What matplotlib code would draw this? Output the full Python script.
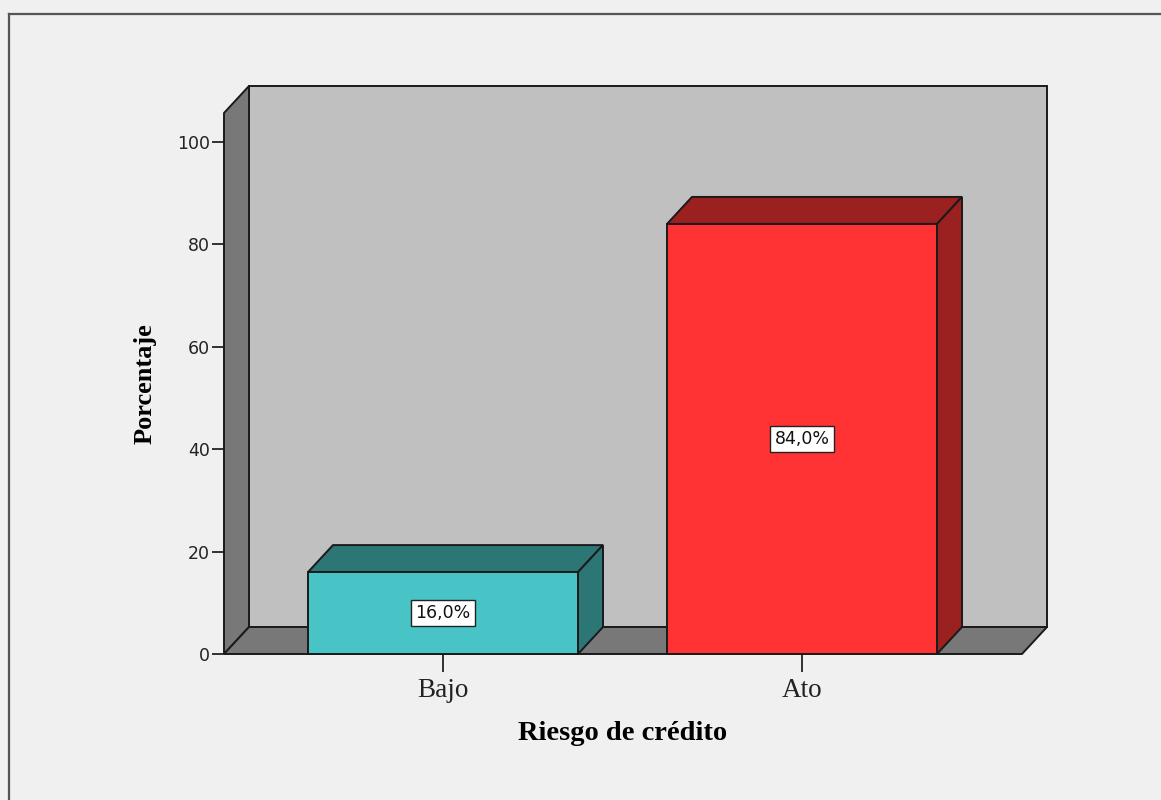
import matplotlib
matplotlib.use("Agg")
import matplotlib.pyplot as plt
from matplotlib.patches import Polygon

# Data
categories = ["Bajo", "Ato"]
percentages = [16.0, 84.0]
bar_labels = ["16,0%", "84,0%"]
y_ticks = [0, 20, 40, 60, 80, 100]

# Colours
front_colors = ["#48c3c6", "#ff3333"]
shade_colors = ["#2c7676", "#9b2020"]
page_bg = "#f0f0f0"
wall_back = "#c0c0c0"
wall_side = "#787878"
edge = "#1a1a1a"

W, H, DPI = 11.61, 8.0, 100
fig = plt.figure(figsize=(W, H), dpi=DPI, facecolor=page_bg)

# Outer frame
fig.add_artist(plt.Line2D([9 / 1161, 9 / 1161], [0, 1 - 14 / 800],
                          transform=fig.transFigure, color="#555555", lw=1.6))
fig.add_artist(plt.Line2D([9 / 1161, 1], [1 - 14 / 800, 1 - 14 / 800],
                          transform=fig.transFigure, color="#555555", lw=1.6))

# Front plane of the chart (pixel geometry)
x_left_px, x_right_px = 224, 1022
y_base_px, y_top_px = 654, 113
ax = fig.add_axes([x_left_px / 1161, 1 - y_base_px / 800,
                   (x_right_px - x_left_px) / 1161, (y_base_px - y_top_px) / 800])
ax.set_facecolor("none")

px_per_cat = 359.0
px_per_pct = 5.12
x0 = -(443 - x_left_px) / px_per_cat
x1 = (x_right_px - 443) / px_per_cat
ymax = (y_base_px - y_top_px) / px_per_pct
ax.set_xlim(x0, x1)
ax.set_ylim(0, ymax)

# Depth offset in data units
dx = 25 / px_per_cat
dy = 27 / px_per_pct
bar_w = 270 / px_per_cat

lw = 1.4
kw = dict(closed=True, ec=edge, lw=lw, clip_on=False, joinstyle="miter")

# Back wall
ax.add_patch(Polygon([(x0 + dx, dy), (x1 + dx, dy), (x1 + dx, ymax + dy),
                      (x0 + dx, ymax + dy)], fc=wall_back, zorder=1, **kw))
# Left wall
ax.add_patch(Polygon([(x0, 0), (x0 + dx, dy), (x0 + dx, ymax + dy), (x0, ymax)],
                     fc=wall_side, zorder=2, **kw))
# Floor
ax.add_patch(Polygon([(x0, 0), (x1, 0), (x1 + dx, dy), (x0 + dx, dy)],
                     fc=wall_side, zorder=2, **kw))

# 3D bars
for i, (val, lab) in enumerate(zip(percentages, bar_labels)):
    l, r = i - bar_w / 2, i + bar_w / 2
    ax.add_patch(Polygon([(l, val), (r, val), (r + dx, val + dy), (l + dx, val + dy)],
                         fc=shade_colors[i], zorder=3, **kw))
    ax.add_patch(Polygon([(r, 0), (r + dx, dy), (r + dx, val + dy), (r, val)],
                         fc=shade_colors[i], zorder=3, **kw))
    ax.add_patch(Polygon([(l, 0), (r, 0), (r, val), (l, val)],
                         fc=front_colors[i], zorder=4, **kw))
    ax.text(i, val / 2, lab, ha="center", va="center", fontsize=12.5,
            family="DejaVu Sans", color="#111111", zorder=6,
            bbox=dict(boxstyle="square,pad=0.25", fc="white", ec="#222222", lw=1.0))

# Axes styling
for s in ax.spines.values():
    s.set_visible(False)
ax.set_yticks(y_ticks)
ax.set_yticklabels([str(t) for t in y_ticks], family="DejaVu Sans", fontsize=12.5,
                   color="#222222")
ax.set_xticks(range(len(categories)))
ax.set_xticklabels(categories, family="Liberation Serif", fontsize=19.5, color="#222222")
ax.tick_params(axis="y", direction="out", length=9, width=1.3, color="#222222", pad=1)
ax.tick_params(axis="x", direction="out", length=13, width=1.3, color="#222222", pad=4)

ax.set_ylabel("Porcentaje", family="Liberation Serif", fontsize=19, fontweight="bold",
              labelpad=15)
ax.set_xlabel("Riesgo de crédito", family="Liberation Serif", fontsize=20.5,
              fontweight="bold", labelpad=13)

fig.savefig("out.png", dpi=DPI, facecolor=page_bg)
